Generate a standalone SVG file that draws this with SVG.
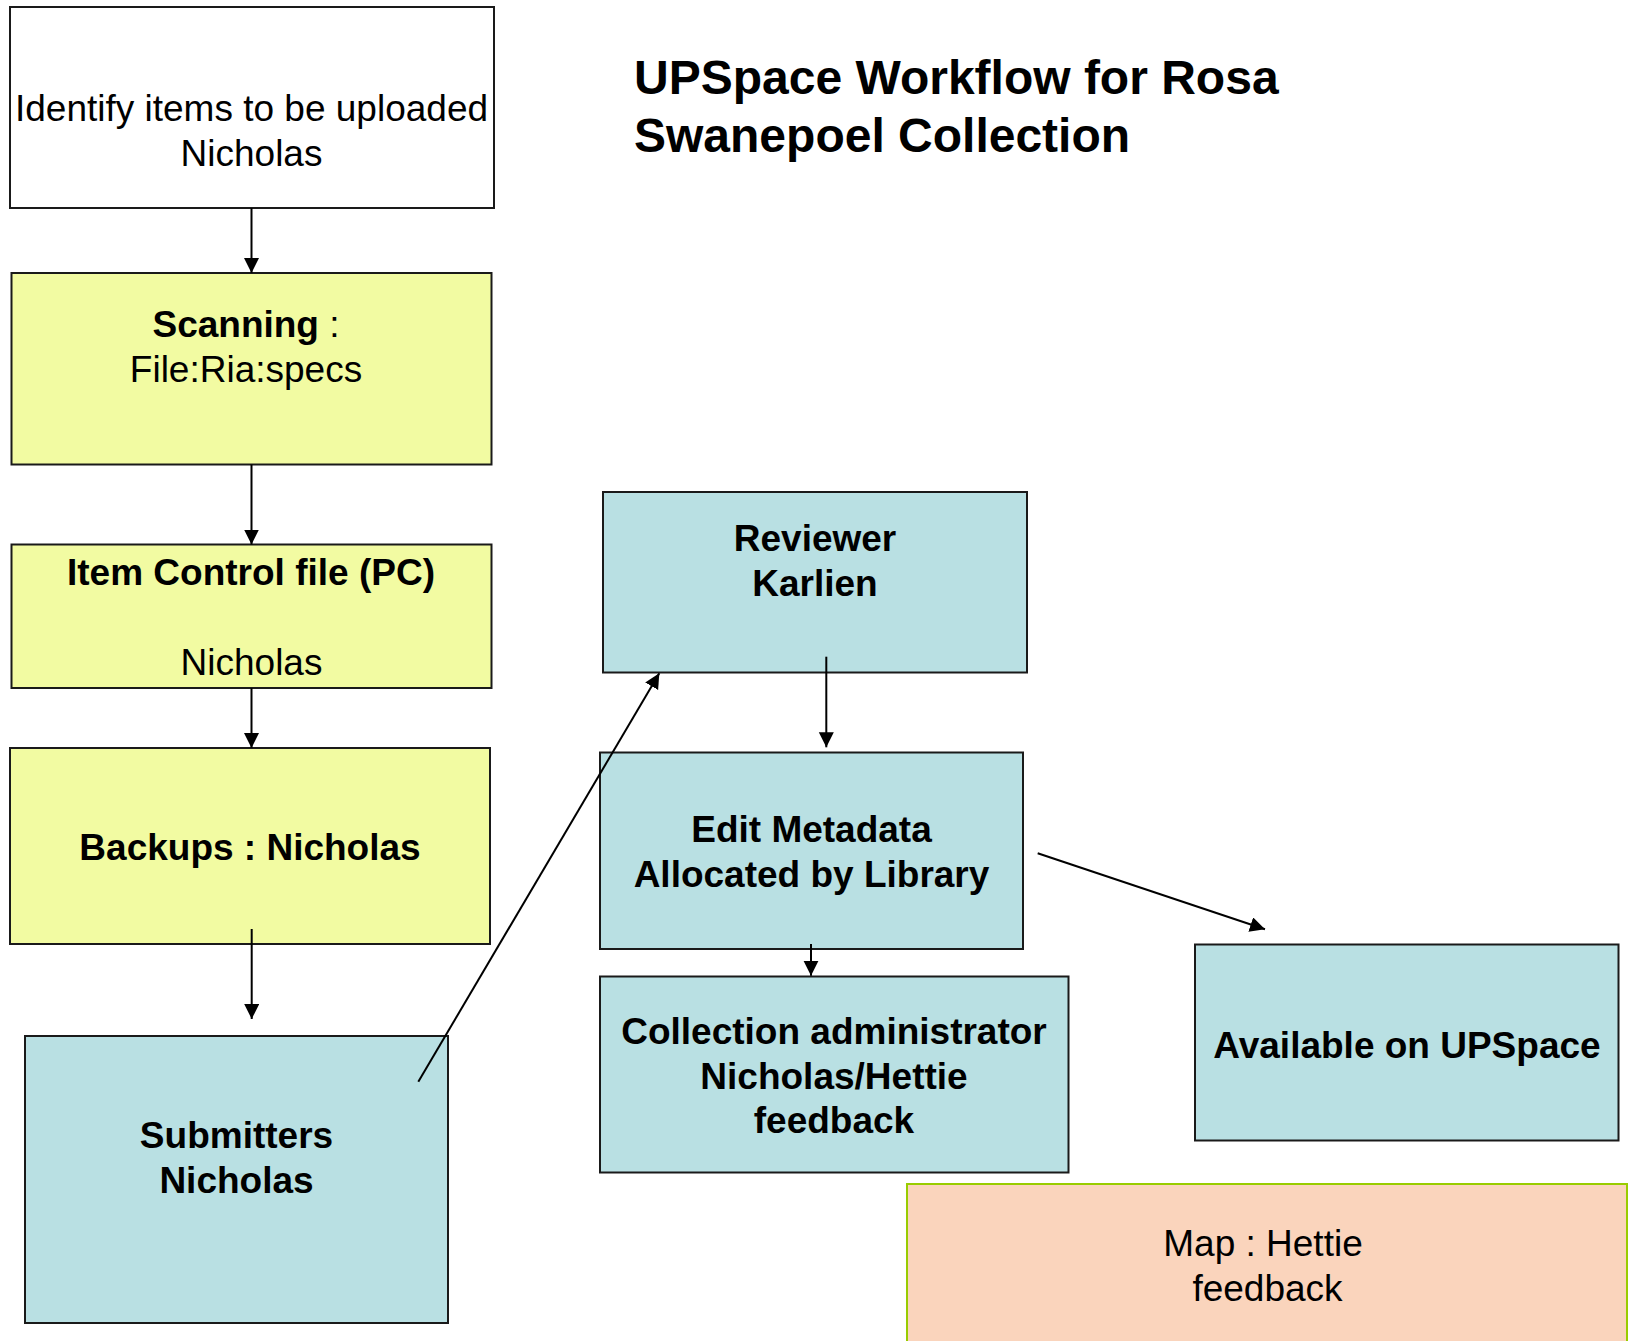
<svg xmlns="http://www.w3.org/2000/svg" width="1633" height="1341" viewBox="0 0 1633 1341">
<style>
  .box { stroke: #1a1a1a; stroke-width: 2; }
  .white { fill: #ffffff; }
  .yellow { fill: #F2FBA2; }
  .blue { fill: #B9E0E3; }
  .peach { fill: #FAD4BC; stroke: #99CC00; stroke-width: 2; }
  .t { font-family: "Liberation Sans", Arial, sans-serif; font-size: 37px; fill: #000; text-anchor: middle; }
  .b { font-weight: bold; }
  .title { font-family: "Liberation Sans", Arial, sans-serif; font-size: 48px; font-weight: bold; fill: #000; }
  .conn { stroke: #000; stroke-width: 2; fill: none; marker-end: url(#arrow); }
</style>
<defs>
  <marker id="arrow" markerUnits="userSpaceOnUse" markerWidth="16" markerHeight="16" refX="15" refY="7.5" orient="auto">
    <path d="M0,0 L15,7.5 L0,15 z" fill="#000"/>
  </marker>
</defs>
<rect width="1633" height="1341" fill="#ffffff"/>

<g id="title">
  <text class="title" x="634" y="94">UPSpace Workflow for Rosa</text>
  <text class="title" x="634" y="152">Swanepoel Collection</text>
</g>

<g id="identify">
  <rect class="box white" x="10" y="7" width="484" height="201"/>
  <text class="t" x="251.5" y="121">Identify items to be uploaded</text>
  <text class="t" x="251.5" y="166">Nicholas</text>
</g>

<g id="scanning">
  <rect class="box yellow" x="11.5" y="273" width="480" height="191.5"/>
  <text class="t" x="246" y="337"><tspan class="b">Scanning</tspan> :</text>
  <text class="t" x="246" y="382">File:Ria:specs</text>
</g>

<g id="itemcontrol">
  <rect class="box yellow" x="11.5" y="544.5" width="480" height="143.5"/>
  <text class="t b" x="251" y="585">Item Control file (PC)</text>
  <text class="t" x="251.5" y="675">Nicholas</text>
</g>

<g id="backups">
  <rect class="box yellow" x="10" y="748" width="480" height="196"/>
  <text class="t b" x="250" y="860">Backups : Nicholas</text>
</g>

<g id="submitters">
  <rect class="box blue" x="25" y="1036" width="423" height="287"/>
  <text class="t b" x="236.5" y="1148">Submitters</text>
  <text class="t b" x="236.5" y="1193">Nicholas</text>
</g>

<g id="reviewer">
  <rect class="box blue" x="603" y="492" width="424" height="180.5"/>
  <text class="t b" x="815" y="551">Reviewer</text>
  <text class="t b" x="815" y="596">Karlien</text>
</g>

<g id="editmetadata">
  <rect class="box blue" x="600" y="752.5" width="423" height="196.5"/>
  <text class="t b" x="811.5" y="842">Edit Metadata</text>
  <text class="t b" x="811.5" y="887">Allocated by Library</text>
</g>

<g id="collectionadmin">
  <rect class="box blue" x="600" y="976.5" width="468.5" height="196"/>
  <text class="t b" x="834" y="1044">Collection administrator</text>
  <text class="t b" x="834" y="1089">Nicholas/Hettie</text>
  <text class="t b" x="834" y="1133">feedback</text>
</g>

<g id="available">
  <rect class="box blue" x="1195" y="944.5" width="423.5" height="196"/>
  <text class="t b" x="1407" y="1058">Available on UPSpace</text>
</g>

<g id="map">
  <rect class="peach" x="907" y="1184" width="720" height="170"/>
  <text class="t" x="1263" y="1256">Map : Hettie</text>
  <text class="t" x="1267.5" y="1301">feedback</text>
</g>

<g id="connectors">
  <line class="conn" x1="251.5" y1="208" x2="251.5" y2="273"/>
  <line class="conn" x1="251.5" y1="464.5" x2="251.5" y2="544.5"/>
  <line class="conn" x1="251.5" y1="688" x2="251.5" y2="748"/>
  <line class="conn" x1="251.7" y1="929" x2="251.7" y2="1019"/>
  <line class="conn" x1="418.3" y1="1081.7" x2="659.3" y2="673.3"/>
  <line class="conn" x1="826.3" y1="656.7" x2="826.3" y2="747.3"/>
  <line class="conn" x1="811" y1="944" x2="811" y2="975.7"/>
  <line class="conn" x1="1037.7" y1="853.3" x2="1265" y2="929.3"/>
</g>
</svg>
